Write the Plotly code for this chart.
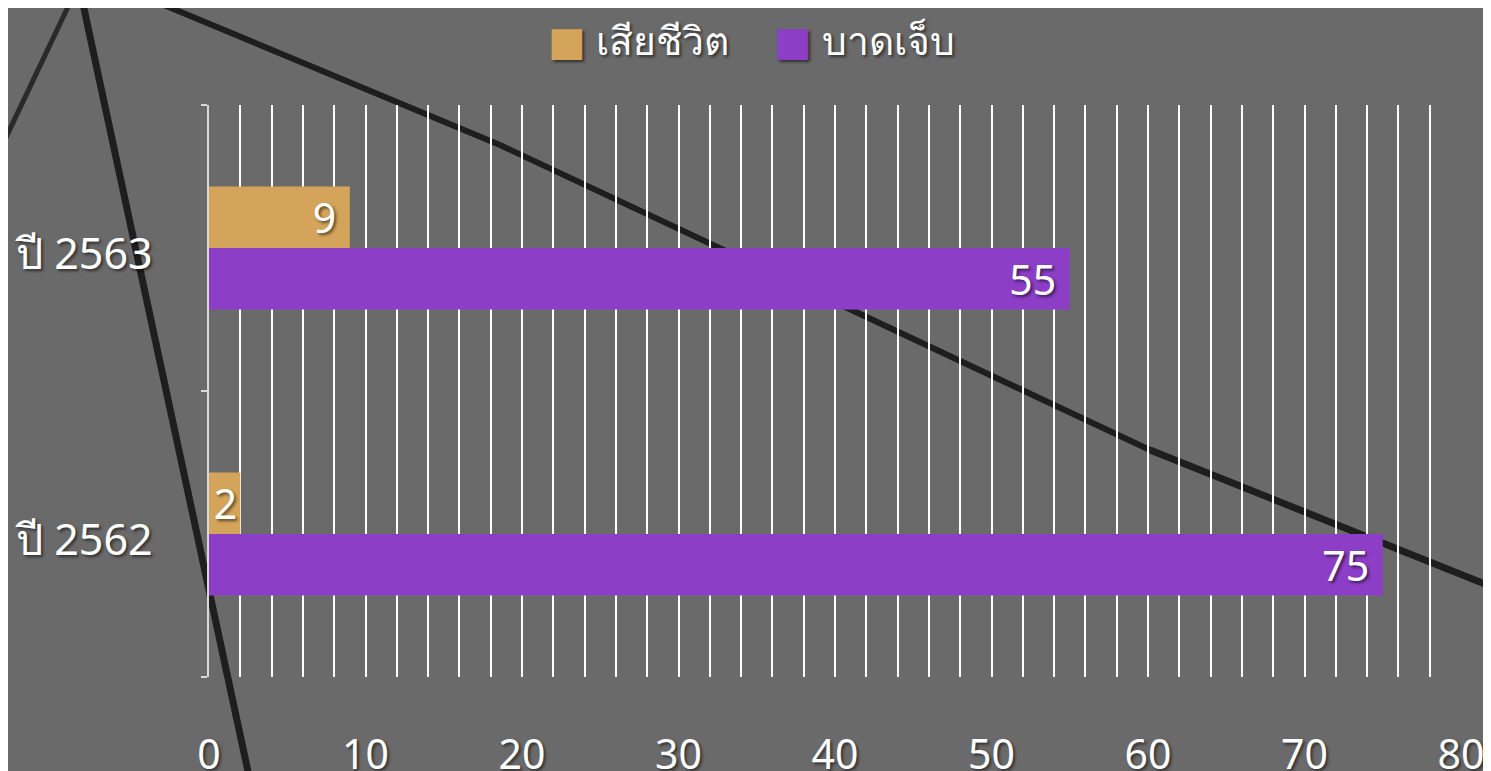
import plotly.graph_objects as go

categories = ["ปี 2562", "ปี 2563"]
deaths = [2, 9]
injuries = [75, 55]
series_names = ["เสียชีวิต", "บาดเจ็บ"]
colors = ["#D3A459", "#8C3EC7"]
x_ticks = [0, 10, 20, 30, 40, 50, 60, 70, 80]

W, H = 1491, 771
FONT = "Noto Sans, DejaVu Sans, sans-serif"
SHADOW = "2px 2px 3px rgba(0,0,0,0.55)"
FS = 41

def bar_labels(values):
    # trailing no-break space gives the label some right padding inside wide bars
    return [f"{v}\u00a0" if v > 4 else f"{v}" for v in values]

fig = go.Figure()
# purple first so that it sits lower within each category group
fig.add_trace(go.Bar(
    y=categories, x=injuries, orientation="h", name=series_names[1],
    marker=dict(color=colors[1], line=dict(width=0)),
    text=bar_labels(injuries), textposition="inside", insidetextanchor="end",
    textangle=0, constraintext="none",
    textfont=dict(color="white", size=FS, family=FONT, shadow=SHADOW),
    showlegend=False,
))
fig.add_trace(go.Bar(
    y=categories, x=deaths, orientation="h", name=series_names[0],
    marker=dict(color=colors[0], line=dict(width=0)),
    text=bar_labels(deaths), textposition="inside", insidetextanchor="end",
    textangle=0, constraintext="none",
    textfont=dict(color="white", size=FS, family=FONT, shadow=SHADOW),
    showlegend=False,
))
# legend entries with large square swatches
for i, (nm, col) in enumerate(zip(series_names, colors)):
    fig.add_trace(go.Scatter(
        x=[None], y=[None], mode="markers",
        marker=dict(color="rgba(0,0,0,0)", size=1),
        name=f"<span style='color:{col};font-size:40px;font-family:DejaVu Sans'>■</span> {nm}",
        legendrank=i + 1, hoverinfo="skip",
    ))

# plot-area in page pixel coordinates (reference)
PL, PR, PT, PB = 209, 1461, 105, 677

def pp(x, y):
    return (x - PL) / (PR - PL), 1 - (y - PT) / (PB - PT)

shapes = []
def line(p0, p1, width, color="#1e1e1e"):
    x0, y0 = pp(*p0)
    x1, y1 = pp(*p1)
    shapes.append(dict(type="line", xref="paper", yref="paper", x0=x0, y0=y0, x1=x1, y1=y1,
                       line=dict(color=color, width=width), layer="below"))

line((80, -10), (252, 790), 7)
line((76, -10), (0, 150), 5, "#2a2a2a")
line((140, -5), (500, 145), 6)
line((500, 145), (1150, 450), 6)
line((1150, 450), (1500, 590), 7)

OFF = 8  # page body margin
fig.update_layout(
    width=W, height=H,
    paper_bgcolor="#6a6a6a", plot_bgcolor="rgba(0,0,0,0)",
    barmode="group", bargap=0.57, bargroupgap=0,
    margin=dict(l=PL - OFF, r=W - PR + OFF, t=PT - OFF, b=H - PB + OFF, autoexpand=False),
    font=dict(family=FONT, color="white", size=FS),
    showlegend=True,
    legend=dict(orientation="h", xref="container", x=0.487, xanchor="center",
                yref="container", y=1.0, yanchor="top",
                font=dict(size=39, color="white", family=FONT, shadow=SHADOW),
                bgcolor="rgba(0,0,0,0)", itemwidth=30, traceorder="normal"),
    shapes=shapes,
    xaxis=dict(range=[0, 80], tickvals=x_ticks, ticktext=[str(v) for v in x_ticks],
               showgrid=True, gridcolor="white", gridwidth=1.5,
               minor=dict(dtick=2, showgrid=True, gridcolor="white", gridwidth=1.5),
               zeroline=False, showline=False, ticks="", automargin=False,
               ticklabelstandoff=50,
               tickfont=dict(size=FS, color="white", family=FONT, shadow=SHADOW)),
    yaxis=dict(categoryorder="array", categoryarray=categories,
               showline=True, linecolor="#d8d8d8", linewidth=1.5, automargin=False,
               ticks="outside", tickson="boundaries", ticklen=6, tickcolor="#d8d8d8", tickwidth=1.5,
               showgrid=False, zeroline=False, ticklabelstandoff=46, ticklabelshift=6,
               tickfont=dict(size=43, color="white", family=FONT, shadow=SHADOW)),
)

fig.write_html("out.html")
